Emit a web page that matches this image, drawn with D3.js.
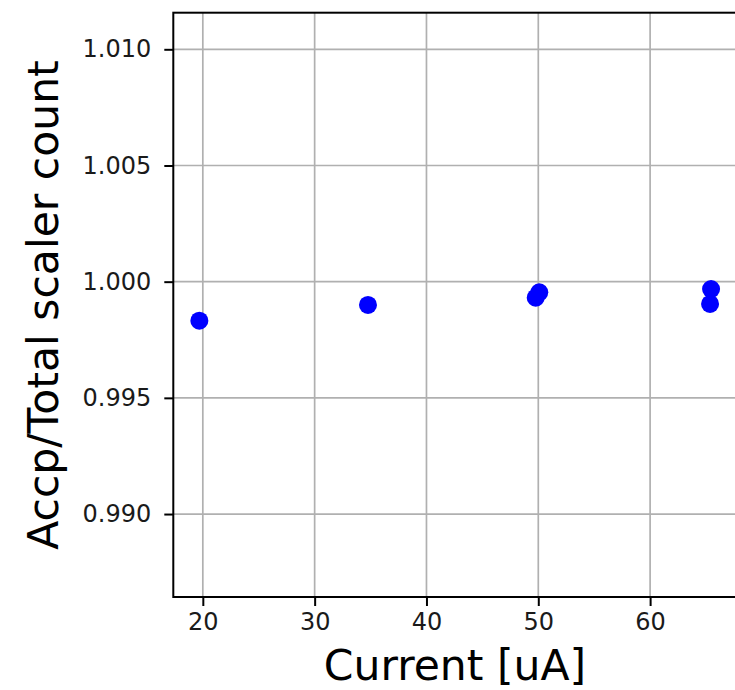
<!DOCTYPE html>
<html><head><meta charset="utf-8">
<script src="https://cdn.jsdelivr.net/npm/d3@7"></script>
<style>body{margin:0;background:#fff;overflow:hidden} text{font-family:"DejaVu Sans",sans-serif}</style>
</head><body><svg id="c" width="735" height="690"></svg>
<script>
const currents = [19.69, 34.77, 49.77, 50.09, 65.36, 65.45];
const ratios = [0.99832, 0.99900, 0.99931, 0.99954, 0.99904, 0.99968];
const xTicks = [20, 30, 40, 50, 60];
const yTicks = [0.990, 0.995, 1.000, 1.005, 1.010];
const xDomain = [17.36, 67.77];
const yDomain = [0.98643, 1.011575];

const svg = d3.select("#c");
const m = {left: 173.3, top: 12.7, right: 737, bottom: 597};
const x = d3.scaleLinear().domain(xDomain).range([m.left, m.right]);
const y = d3.scaleLinear().domain(yDomain).range([m.bottom, m.top]);

// grid
const grid = svg.append("g");
grid.selectAll(".gx").data(xTicks).join("line")
  .attr("x1", d => x(d)).attr("x2", d => x(d)).attr("y1", m.top).attr("y2", m.bottom)
  .attr("stroke", "#b0b0b0").attr("stroke-width", 1.7);
grid.selectAll(".gy").data(yTicks).join("line")
  .attr("y1", d => y(d)).attr("y2", d => y(d)).attr("x1", m.left).attr("x2", m.right)
  .attr("stroke", "#b0b0b0").attr("stroke-width", 1.7);

// points
svg.append("g").selectAll("circle").data(currents).join("circle")
  .attr("cx", d => x(d)).attr("cy", (d, i) => y(ratios[i])).attr("r", 9)
  .attr("fill", "#0000ff");

// axes
const xa = svg.append("g").attr("transform", `translate(0,${m.bottom})`)
  .call(d3.axisBottom(x).tickValues(xTicks).tickSize(9).tickPadding(7).tickFormat(d3.format("d")));
const ya = svg.append("g").attr("transform", `translate(${m.left},0)`)
  .call(d3.axisLeft(y).tickValues(yTicks).tickSize(9).tickPadding(13).tickFormat(d3.format(".3f")));
[xa, ya].forEach(a => {
  a.select(".domain").remove();
  a.selectAll(".tick line").attr("stroke", "#000").attr("stroke-width", 2);
  a.selectAll(".tick text").attr("font-size", 24).attr("fill", "#1a1a1a")
    .style("font-family", '"DejaVu Sans", sans-serif');
});

// spines
svg.append("rect").attr("x", m.left).attr("y", m.top)
  .attr("width", m.right - m.left).attr("height", m.bottom - m.top)
  .attr("fill", "none").attr("stroke", "#000").attr("stroke-width", 2);

// labels
svg.append("text").attr("x", 455).attr("y", 680).attr("text-anchor", "middle")
  .attr("font-size", 42.5).attr("fill", "#000").text("Current [uA]");
svg.append("text").attr("transform", `translate(58,305) rotate(-90)`).attr("text-anchor", "middle")
  .attr("font-size", 42.5).attr("fill", "#000").text("Accp/Total scaler count");
</script></body></html>
